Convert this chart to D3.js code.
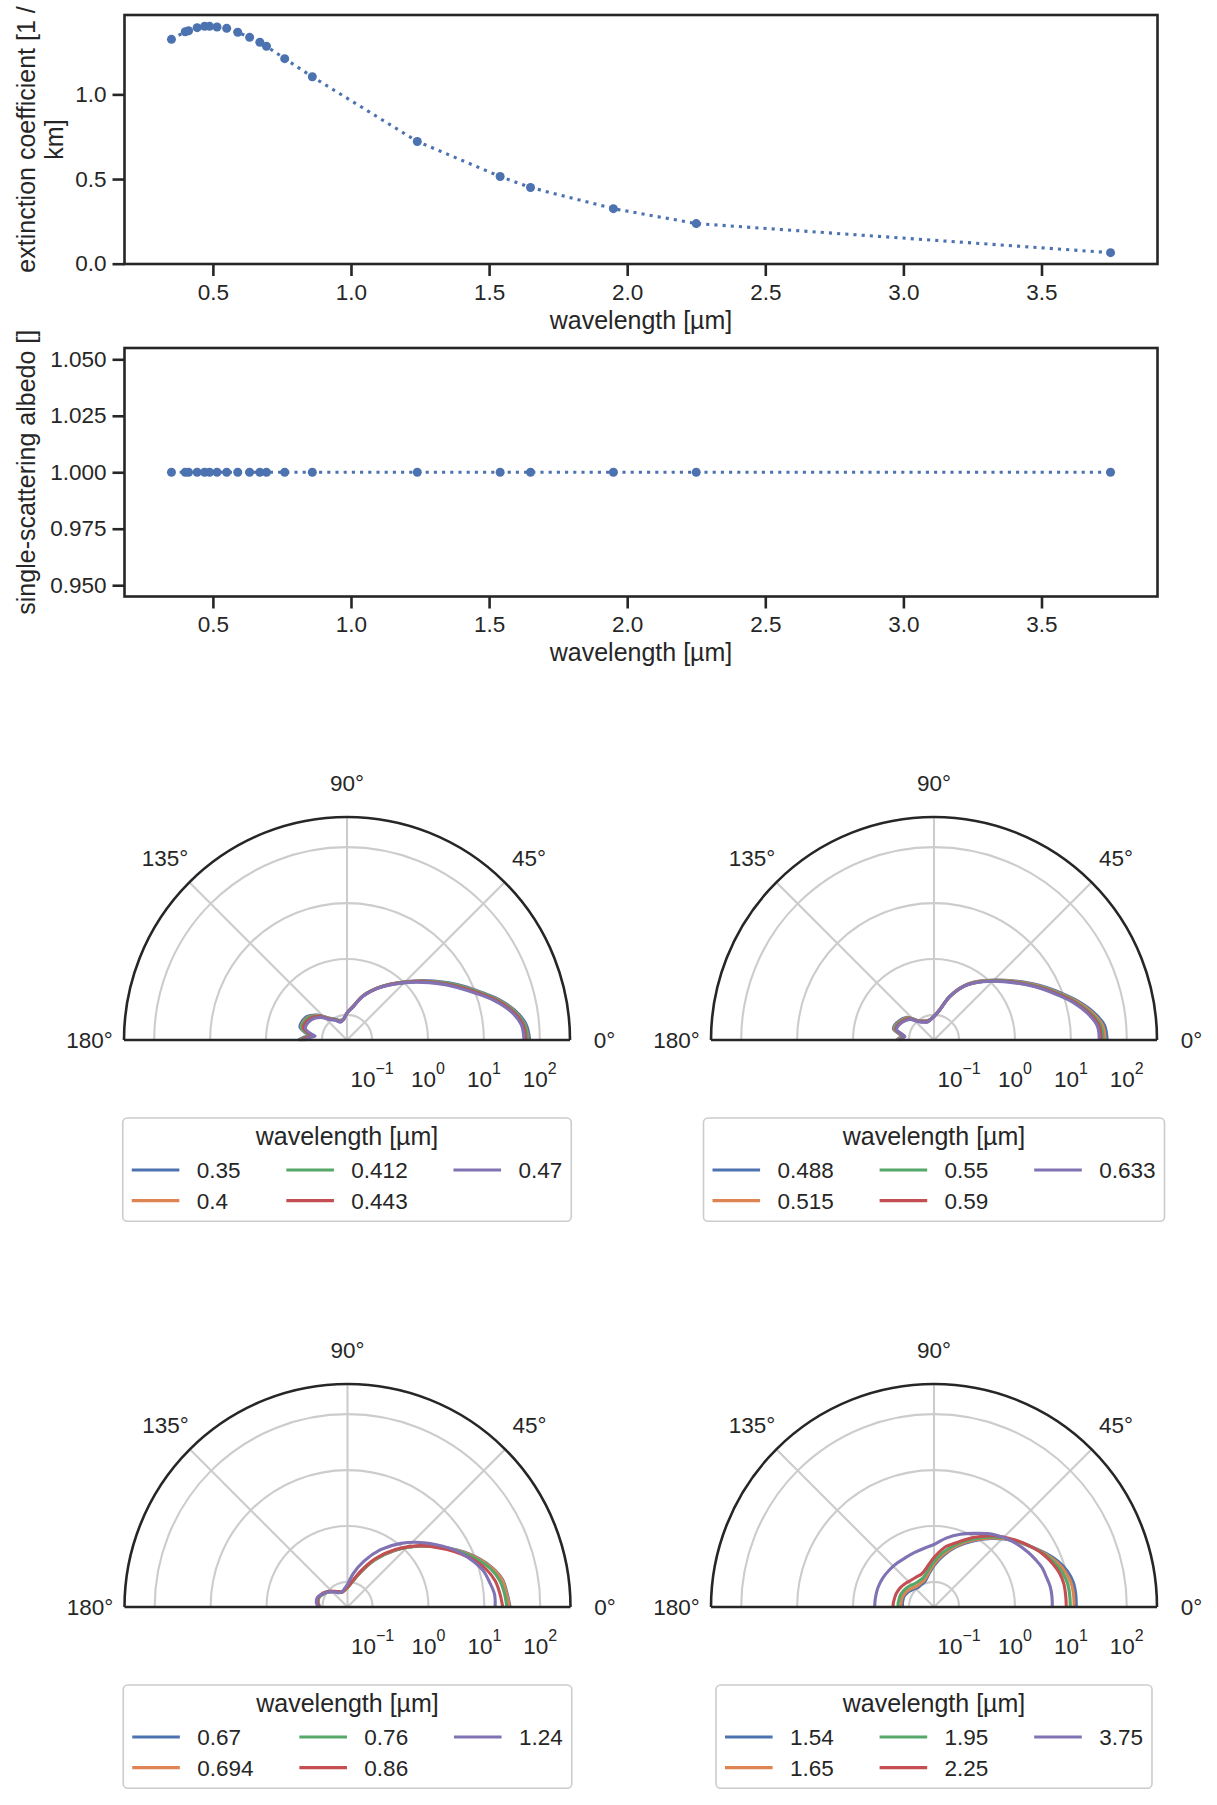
<!DOCTYPE html>
<html>
<head>
<meta charset="utf-8">
<script src="https://cdn.jsdelivr.net/npm/d3@7"></script>
<style>
  body { margin: 0; background: #fff; }
  text { font-family: "Liberation Sans", Arial, sans-serif; fill: #262626; }
</style>
</head>
<body>
<div id="chart"></div>
<script>
// Optical properties vs wavelength

// Wavelengths [um]
const wavelengths = [0.35, 0.4, 0.412, 0.443, 0.47, 0.488, 0.515, 0.55, 0.59, 0.633,
                     0.67, 0.694, 0.76, 0.86, 1.24, 1.54, 1.65, 1.95, 2.25, 3.75];
// Extinction coefficient [1 / km]
const extinction = [1.325, 1.370, 1.376, 1.394, 1.402, 1.402, 1.398, 1.390, 1.367, 1.337,
                    1.308, 1.284, 1.211, 1.104, 0.722, 0.515, 0.450, 0.325, 0.237, 0.065];
// Single-scattering albedo
const albedo = [1, 1, 1, 1, 1, 1, 1, 1, 1, 1, 1, 1, 1, 1, 1, 1, 1, 1, 1, 1];

// Tick labels
const wlTicks = [0.5, 1.0, 1.5, 2.0, 2.5, 3.0, 3.5];
const extTicks = [0.0, 0.5, 1.0];
const albedoTicks = [0.950, 0.975, 1.000, 1.025, 1.050];
const angleTicks = [0, 45, 90, 135, 180];
const radialTicks = [0.1, 1, 10, 100];
const radialExponents = ["\u22121", "0", "1", "2"];

// Phase functions, scattering angle [deg]
const scatteringAngles = [0, 5, 10, 15, 20, 25, 30, 40, 50, 60, 70, 80, 90, 100,
                          110, 120, 130, 140, 150, 160, 165, 170, 173, 176, 180];

// Legend groups (one per polar panel)
const panelGroups = [
  [0.35, 0.4, 0.412, 0.443, 0.47],
  [0.488, 0.515, 0.55, 0.59, 0.633],
  [0.67, 0.694, 0.76, 0.86, 1.24],
  [1.54, 1.65, 1.95, 2.25, 3.75]
];

const phase_0_35  = [66.0, 58.5, 39.9, 22.8, 12.0, 6.86, 4.08, 1.59, 0.750, 0.418, 0.249, 0.144, 0.109, 0.085, 0.084, 0.096, 0.116, 0.176, 0.242, 0.268, 0.263, 0.205, 0.169, 0.205, 0.263];
const phase_0_4   = [62.1, 55.2, 38.1, 21.8, 11.5, 6.56, 3.89, 1.55, 0.741, 0.417, 0.248, 0.144, 0.109, 0.0846, 0.0821, 0.0947, 0.114, 0.169, 0.228, 0.253, 0.249, 0.194, 0.159, 0.194, 0.249];
const phase_0_412 = [60.4, 54.2, 37.4, 21.4, 11.3, 6.44, 3.85, 1.54, 0.737, 0.415, 0.246, 0.143, 0.108, 0.0842, 0.0817, 0.0942, 0.113, 0.166, 0.223, 0.247, 0.243, 0.189, 0.156, 0.189, 0.243];
const phase_0_443 = [56.4, 51.3, 35.4, 20.3, 10.7, 6.09, 3.67, 1.50, 0.727, 0.412, 0.245, 0.142, 0.108, 0.0836, 0.0798, 0.0921, 0.110, 0.159, 0.208, 0.231, 0.227, 0.177, 0.145, 0.177, 0.227];
const phase_0_47  = [52.2, 48.1, 33.2, 19.0, 10.0, 5.71, 3.47, 1.45, 0.716, 0.409, 0.243, 0.141, 0.107, 0.083, 0.078, 0.090, 0.108, 0.150, 0.192, 0.213, 0.209, 0.163, 0.134, 0.163, 0.209];

const phase_0_488 = [44.4, 40.9, 27.7, 16.7, 9.70, 5.93, 3.70, 1.64, 0.865, 0.489, 0.243, 0.124, 0.0950, 0.0847, 0.0834, 0.0888, 0.102, 0.153, 0.180, 0.202, 0.200, 0.153, 0.137, 0.147, 0.165];
const phase_0_515 = [41.0, 37.9, 26.0, 15.9, 9.26, 5.70, 3.57, 1.61, 0.854, 0.484, 0.242, 0.123, 0.0945, 0.0842, 0.0819, 0.0872, 0.101, 0.147, 0.174, 0.195, 0.193, 0.147, 0.132, 0.142, 0.160];
const phase_0_55  = [37.8, 35.2, 24.4, 15.1, 8.84, 5.47, 3.45, 1.57, 0.841, 0.480, 0.241, 0.122, 0.0940, 0.0838, 0.0805, 0.0857, 0.0988, 0.143, 0.168, 0.189, 0.187, 0.143, 0.128, 0.137, 0.154];
const phase_0_59  = [34.9, 32.7, 22.9, 14.3, 8.45, 5.26, 3.33, 1.53, 0.828, 0.476, 0.239, 0.122, 0.0935, 0.0833, 0.0791, 0.0842, 0.0971, 0.138, 0.162, 0.182, 0.180, 0.138, 0.123, 0.132, 0.149];
const phase_0_633 = [32.2, 30.3, 21.5, 13.6, 8.07, 5.05, 3.22, 1.50, 0.817, 0.472, 0.238, 0.121, 0.0929, 0.0828, 0.0778, 0.0828, 0.0955, 0.133, 0.157, 0.176, 0.174, 0.133, 0.119, 0.128, 0.144];

const phase_0_67  = [28.9, 26.0, 23.4, 17.4, 11.6, 7.34, 4.50, 1.77, 0.750, 0.332, 0.157, 0.100, 0.0787, 0.0716, 0.0682, 0.0731, 0.0811, 0.0936, 0.108, 0.121, 0.123, 0.122, 0.120, 0.116, 0.113];
const phase_0_694 = [28.1, 25.4, 22.9, 17.0, 11.4, 7.22, 4.44, 1.77, 0.750, 0.333, 0.158, 0.100, 0.0791, 0.0716, 0.0682, 0.0731, 0.0811, 0.0940, 0.109, 0.122, 0.124, 0.123, 0.120, 0.117, 0.113];
const phase_0_76  = [25.2, 23.4, 20.6, 15.8, 10.7, 6.93, 4.32, 1.78, 0.759, 0.340, 0.162, 0.101, 0.0798, 0.0722, 0.0685, 0.0734, 0.0817, 0.0955, 0.110, 0.123, 0.125, 0.124, 0.122, 0.118, 0.115];
const phase_0_86  = [21.3, 19.4, 17.2, 13.4, 9.44, 6.25, 4.06, 1.82, 0.797, 0.357, 0.170, 0.103, 0.0811, 0.0731, 0.0687, 0.0738, 0.0828, 0.0975, 0.113, 0.125, 0.128, 0.126, 0.123, 0.120, 0.117];
const phase_1_24  = [15.6, 15.5, 13.5, 11.6, 8.81, 6.46, 4.54, 2.19, 1.09, 0.543, 0.268, 0.146, 0.0910, 0.0762, 0.0693, 0.0702, 0.0794, 0.0948, 0.110, 0.128, 0.132, 0.131, 0.129, 0.125, 0.121];

const phase_1_54  = [12.5, 12.5, 12.1, 10.5, 8.34, 6.12, 4.41, 2.53, 1.42, 0.814, 0.497, 0.303, 0.196, 0.136, 0.108, 0.103, 0.101, 0.110, 0.122, 0.132, 0.132, 0.132, 0.132, 0.131, 0.131];
const phase_1_65  = [11.4, 11.4, 11.0, 9.64, 7.78, 5.88, 4.37, 2.56, 1.46, 0.848, 0.521, 0.322, 0.209, 0.144, 0.115, 0.109, 0.108, 0.117, 0.130, 0.138, 0.140, 0.140, 0.140, 0.140, 0.140];
const phase_1_95  = [9.75, 9.71, 9.48, 8.51, 7.11, 5.64, 4.33, 2.60, 1.54, 0.902, 0.562, 0.357, 0.232, 0.160, 0.129, 0.123, 0.124, 0.135, 0.146, 0.154, 0.155, 0.156, 0.157, 0.157, 0.157];
const phase_2_25  = [8.27, 8.24, 8.14, 7.53, 6.49, 5.41, 4.32, 2.67, 1.64, 0.979, 0.610, 0.430, 0.273, 0.188, 0.153, 0.149, 0.152, 0.163, 0.176, 0.185, 0.187, 0.189, 0.191, 0.192, 0.192];
const phase_3_75  = [4.65, 4.67, 4.59, 4.28, 4.06, 3.59, 3.17, 2.40, 1.74, 1.18, 0.866, 0.636, 0.467, 0.412, 0.385, 0.372, 0.377, 0.388, 0.401, 0.409, 0.409, 0.409, 0.409, 0.409, 0.409];

// Lookup: wavelength -> phase function
const phaseCurves = new Map([
  [0.35, phase_0_35], [0.4, phase_0_4], [0.412, phase_0_412], [0.443, phase_0_443], [0.47, phase_0_47],
  [0.488, phase_0_488], [0.515, phase_0_515], [0.55, phase_0_55], [0.59, phase_0_59], [0.633, phase_0_633],
  [0.67, phase_0_67], [0.694, phase_0_694], [0.76, phase_0_76], [0.86, phase_0_86], [1.24, phase_1_24],
  [1.54, phase_1_54], [1.65, phase_1_65], [1.95, phase_1_95], [2.25, phase_2_25], [3.75, phase_3_75]
]);

// Seaborn "deep" colours
const palette = ["#4c72b0", "#dd8452", "#55a868", "#c44e52", "#8172b3"];
const ink = "#262626";

// Sizes (seaborn talk context at 100 dpi)
const tickFont = 22.5, labelFont = 25;
const spineWidth = 2.6, lineWidth = 3.1, gridWidth = 2.1;

const svg = d3.select("#chart")
  .append("svg")
    .attr("width", 1217)
    .attr("height", 1805);

svg.append("rect").attr("width", 1217).attr("height", 1805).attr("fill", "#fff");

// matplotlib style 5% margins
function padded(values) {
  let [lo, hi] = d3.extent(values);
  if (lo === hi) { lo -= 0.05 * Math.abs(lo); hi += 0.05 * Math.abs(hi); }
  const pad = (hi - lo) * 0.05;
  return [lo - pad, hi + pad];
}

function styleAxis(g) {
  g.attr("font-size", null).attr("font-family", null);
  g.select(".domain").remove();
  g.selectAll(".tick line").attr("stroke", ink).attr("stroke-width", spineWidth);
  g.selectAll(".tick text").style("font-size", tickFont + "px").attr("fill", ink);
}

// Line panel (wavelength on x)
function linePanel(top, bottom, yValues, yTicks, yFormat, yLabelLines, labelXs) {
  const left = 124.5, right = 1157.5;
  const x = d3.scaleLinear().domain(padded(wavelengths)).range([left, right]);
  const y = d3.scaleLinear().domain(padded(yValues)).range([bottom, top]);
  const g = svg.append("g");

  g.append("g")
    .attr("transform", `translate(0,${bottom})`)
    .call(d3.axisBottom(x).tickValues(wlTicks).tickFormat(d3.format(".1f"))
      .tickSize(12).tickSizeOuter(0).tickPadding(8))
    .call(styleAxis);

  g.append("g")
    .attr("transform", `translate(${left},0)`)
    .call(d3.axisLeft(y).tickValues(yTicks).tickFormat(d3.format(yFormat))
      .tickSize(12).tickSizeOuter(0).tickPadding(6))
    .call(styleAxis);

  const pts = d3.zip(wavelengths, yValues);

  // dotted connecting line
  g.append("path")
    .datum(pts)
    .attr("fill", "none")
    .attr("stroke", palette[0])
    .attr("stroke-width", lineWidth)
    .attr("stroke-dasharray", "3.1 5.1")
    .attr("d", d3.line().x(d => x(d[0])).y(d => y(d[1])));

  // markers
  g.selectAll("circle.pt")
    .data(pts)
    .join("circle")
      .attr("class", "pt")
      .attr("cx", d => x(d[0]))
      .attr("cy", d => y(d[1]))
      .attr("r", 4.5)
      .attr("fill", palette[0]);

  // frame
  g.append("rect")
    .attr("x", left).attr("y", top)
    .attr("width", right - left).attr("height", bottom - top)
    .attr("fill", "none").attr("stroke", ink).attr("stroke-width", spineWidth);

  // x label
  g.append("text")
    .attr("x", (left + right) / 2)
    .attr("y", bottom + 64.5)
    .attr("text-anchor", "middle")
    .style("font-size", labelFont + "px")
    .text("wavelength [\u00b5m]");

  // y label (one rotated text per line)
  const yc = (top + bottom) / 2;
  yLabelLines.forEach((line, i) => {
    g.append("text")
      .attr("transform", `translate(${labelXs[i]},${yc}) rotate(-90)`)
      .attr("text-anchor", "middle")
      .style("font-size", labelFont + "px")
      .text(line);
  });
}

linePanel(15, 264, extinction, extTicks, ".1f", ["extinction coefficient [1 /", "km]"], [35, 63]);
linePanel(348, 596.5, albedo, albedoTicks, ".3f", ["single-scattering albedo []"], [35]);

// Polar panels (log radial axis, half circle)
const R = 223;
const rScale = d3.scaleLog().domain([0.0356, 347]).range([0, R]);
const rad = deg => deg * Math.PI / 180;

function polarPanel(cx, cy, group) {
  const g = svg.append("g").attr("transform", `translate(${cx},${cy})`);

  // radial grid circles
  radialTicks.forEach(v => {
    const p = d3.path();
    p.arc(0, 0, rScale(v), Math.PI, 2 * Math.PI);
    g.append("path").attr("d", p.toString())
      .attr("fill", "none").attr("stroke", "#cccccc").attr("stroke-width", gridWidth);
  });
  // angular grid lines
  angleTicks.filter(a => a > 0 && a < 180).forEach(a => {
    g.append("line")
      .attr("x1", 0).attr("y1", 0)
      .attr("x2", R * Math.cos(rad(a))).attr("y2", -R * Math.sin(rad(a)))
      .attr("stroke", "#cccccc").attr("stroke-width", gridWidth);
  });

  // phase function curves
  const line = d3.lineRadial()
    .angle(d => Math.PI / 2 - rad(d[0]))
    .radius(d => rScale(d[1]))
    .curve(d3.curveCatmullRom.alpha(0.5));

  group.forEach((w, i) => {
    g.append("path")
      .datum(d3.zip(scatteringAngles, phaseCurves.get(w)))
      .attr("fill", "none")
      .attr("stroke", palette[i])
      .attr("stroke-width", lineWidth)
      .attr("stroke-linejoin", "round")
      .attr("d", line);
  });

  // spines
  const outer = d3.path();
  outer.arc(0, 0, R, Math.PI, 2 * Math.PI);
  g.append("path").attr("d", outer.toString())
    .attr("fill", "none").attr("stroke", ink).attr("stroke-width", spineWidth);
  g.append("line")
    .attr("x1", -R).attr("x2", R).attr("y1", 0).attr("y2", 0)
    .attr("stroke", ink).attr("stroke-width", spineWidth);

  // angle labels
  angleTicks.forEach(a => {
    g.append("text")
      .attr("x", 257.5 * Math.cos(rad(a)))
      .attr("y", -257.5 * Math.sin(rad(a)) + 8)
      .attr("text-anchor", "middle")
      .style("font-size", tickFont + "px")
      .text(a + "\u00b0");
  });

  // radial labels 10^n
  radialTicks.forEach((v, i) => {
    const t = g.append("text")
      .attr("x", rScale(v))
      .attr("y", 46.5)
      .attr("text-anchor", "middle")
      .style("font-size", tickFont + "px");
    t.append("tspan").text("10");
    t.append("tspan").attr("dy", -13).style("font-size", "16px").text(radialExponents[i]);
  });

  legend(g, 78, group);
}

// Legend below a polar panel (3 columns, filled column by column)
function legend(parent, top, group) {
  const handleLen = 47.6, handlePad = 17.4, colGap = 45.8, pad = 9;
  const rowBase = [60, 90.6];
  const lg = parent.append("g");
  const box = lg.append("rect");

  const cols = [group.slice(0, 2), group.slice(2, 4), group.slice(4)];
  const labels = cols.map(col => col.map(w =>
    lg.append("text").style("font-size", tickFont + "px").text(String(w))));
  const colW = labels.map(col => d3.max(col, t => t.node().getComputedTextLength()));

  const title = lg.append("text")
    .attr("text-anchor", "middle")
    .attr("x", 0).attr("y", top + 27.3)
    .style("font-size", labelFont + "px")
    .text("wavelength [\u00b5m]");

  const inner = d3.sum(colW) + 3 * (handleLen + handlePad) + 2 * colGap;
  const boxW = Math.max(inner, title.node().getComputedTextLength()) + 2 * pad;
  const x0 = -boxW / 2;

  box.attr("x", x0).attr("y", top)
    .attr("width", boxW).attr("height", 103.3)
    .attr("rx", 4.6)
    .attr("fill", "#fff").attr("fill-opacity", 0.8)
    .attr("stroke", "#cccccc").attr("stroke-width", 1.6);

  let cx = x0 + pad;
  cols.forEach((col, ci) => {
    col.forEach((w, ri) => {
      const idx = group.indexOf(w);
      const yb = top + rowBase[ri];
      lg.append("line")
        .attr("x1", cx).attr("x2", cx + handleLen)
        .attr("y1", yb - 8).attr("y2", yb - 8)
        .attr("stroke", palette[idx]).attr("stroke-width", lineWidth);
      labels[ci][ri].attr("x", cx + handleLen + handlePad).attr("y", yb);
    });
    cx += handleLen + handlePad + colW[ci] + colGap;
  });
}

polarPanel(347, 1040, panelGroups[0]);
polarPanel(934, 1040, panelGroups[1]);
polarPanel(347.5, 1607, panelGroups[2]);
polarPanel(934, 1607, panelGroups[3]);
</script>
</body>
</html>
